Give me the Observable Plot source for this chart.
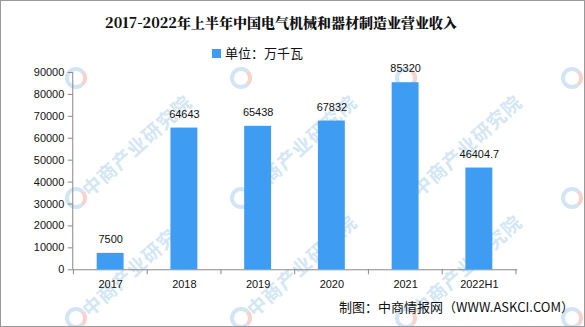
<!DOCTYPE html>
<html><head><meta charset="utf-8">
<script src="https://cdn.jsdelivr.net/npm/d3@7"></script>
<script src="https://cdn.jsdelivr.net/npm/@observablehq/plot@0.6"></script>
<style>
body{margin:0;background:#fff;}
#wrap{position:relative;width:583px;height:325px;border:1px solid #999;overflow:hidden;font-family:"Noto Sans CJK SC",sans-serif;background:#fff;}
#title{position:absolute;top:11px;left:0;width:560px;text-align:center;font-size:14px;font-weight:900;font-family:"Noto Serif CJK SC","Noto Sans CJK SC",serif;color:#111;}
#legend{position:absolute;top:42px;left:0;width:513px;text-align:center;font-size:13px;color:#111;}
#legend span.sw{display:inline-block;width:9px;height:9px;background:#3e9cf2;margin-right:4px;}
#chart{position:absolute;top:60px;left:0;}
#caption{position:absolute;top:296px;right:10px;font-size:13px;color:#111;}
.wm{position:absolute;font-size:19px;font-weight:bold;color:#d3e6f4;white-space:nowrap;transform-origin:0 50%;transform:rotate(-42deg);letter-spacing:1px;}
.logo{position:absolute;width:14px;height:14px;border-radius:50%;border:4px solid #d2e5f4;border-right-color:#f6d3cc;}
</style></head>
<body>
<div id="wrap">
<div id="wms"></div>
<div id="title">2017-2022年上半年中国电气机械和器材制造业营业收入</div>
<div id="legend"><span class="sw"></span>单位：万千瓦</div>
<div id="chart"></div>
<div id="caption">制图：中商情报网（WWW.ASKCI.COM）</div>
</div>
<script>
const years = ["2017","2018","2019","2020","2021","2022H1"];
const values = [7500, 64643, 65438, 67832, 85320, 46404.7];
const labels = ["7500","64643","65438","67832","85320","46404.7"];
const yTicks = [0,10000,20000,30000,40000,50000,60000,70000,80000,90000];
const wmCols = [75, 240, 405, 571];
const wmRows = [77, 197, 317];
const wmTextRows = [197, 317];
const wmTextCols = [75, 240, 405];

// watermarks
const wms = document.getElementById("wms");
for (const wy of wmRows) for (const wx of wmCols) {
  const l = document.createElement("div"); l.className = "logo";
  l.style.left = (wx-11)+"px"; l.style.top = (wy-11)+"px"; wms.appendChild(l);
}
for (const wy of wmTextRows) for (const wx of wmTextCols) {
  const t = document.createElement("div"); t.className = "wm"; t.textContent = "中商产业研究院";
  t.style.left = (wx+8)+"px"; t.style.top = (wy-20)+"px"; wms.appendChild(t);
}

const data = years.map((y,i)=>({year:y, value:values[i], label:labels[i]}));
const chart = Plot.plot({
  width: 585, height: 240,
  marginLeft: 72, marginRight: 67, marginTop: 11, marginBottom: 31,
  style:{fontFamily:"'Liberation Sans', sans-serif", fontSize:"11px", color:"#111", background:"transparent"},
  x:{domain:years, paddingInner:0.63, paddingOuter:0.315, label:null},
  y:{domain:[0,90000], ticks:yTicks, label:null},
  marks:[
    Plot.barY(data,{x:"year", y:"value", fill:"#3e9cf2"}),
    Plot.text(data,{x:"year", y:"value", text:"label", dy:-14, fill:"#111", fontSize:11}),
    Plot.axisY({ticks:yTicks, tickFormat:d=>String(d), tickSize:5, tickPadding:4, stroke:"#888", fill:"#111"}),
    Plot.ruleY([0],{stroke:"#888"}),
    Plot.axisX({tickSize:0, tickPadding:10, fill:"#111"}),
  ]
});
document.getElementById("chart").appendChild(chart);
const svg = d3.select(chart);
const xs = chart.scale("x"), ys = chart.scale("y");
const x0 = xs.range[0];
const yb = ys.apply(0), yt = ys.apply(90000);
svg.append("line").attr("x1",x0).attr("x2",x0).attr("y1",yt).attr("y2",yb).attr("stroke","#888");
const step = xs.step;
for(let i=0;i<=years.length;i++){
  const xx = xs.apply(years[0]) - step*0.315 + i*step;
  svg.append("line").attr("x1",xx).attr("x2",xx).attr("y1",yb).attr("y2",yb+5).attr("stroke","#888");
}
</script>
</body></html>
